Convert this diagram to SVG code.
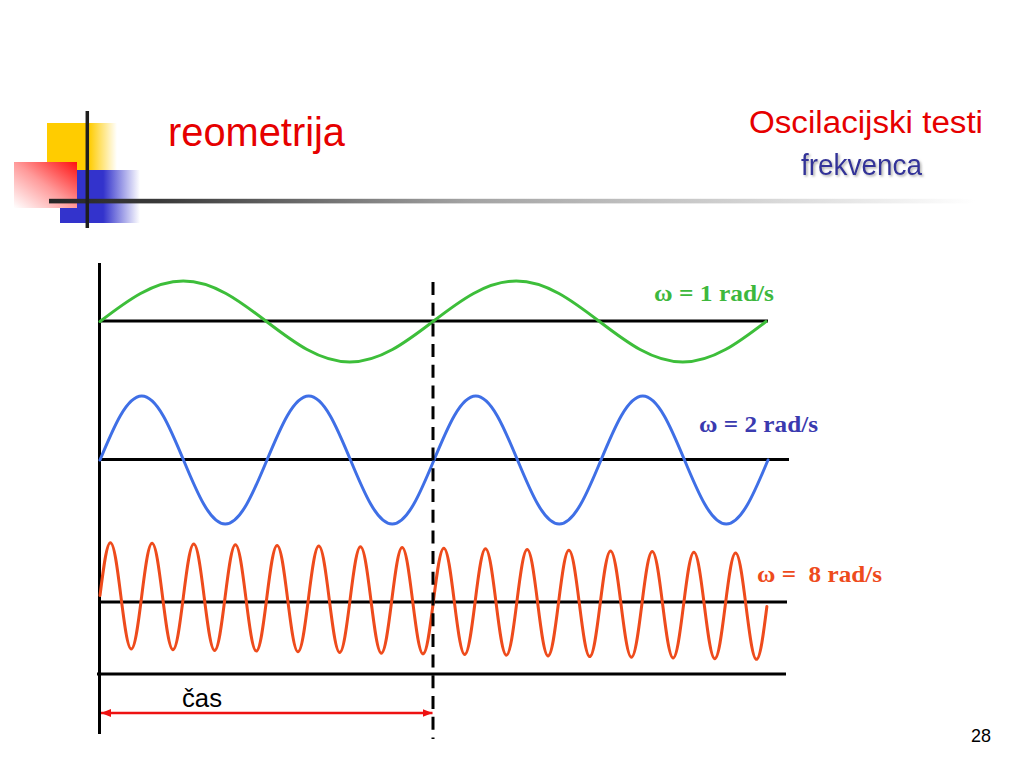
<svg xmlns="http://www.w3.org/2000/svg" width="1024" height="768" viewBox="0 0 1024 768">
<style>
  .sans { font-family: "Liberation Sans", Arial, sans-serif; }
  .serifb { font-family: "Liberation Serif", "Times New Roman", serif; font-weight: bold; }
  .axis { stroke: #000; stroke-width: 3; fill: none; }
  .wave { fill: none; stroke-width: 3; stroke-linejoin: round; stroke-linecap: round; }
</style>
<defs>
  <linearGradient id="gYellow" x1="0" y1="0" x2="1" y2="0">
    <stop offset="0" stop-color="#FFCC00"/>
    <stop offset="0.6" stop-color="#FFCC00"/>
    <stop offset="1" stop-color="#FFCC00" stop-opacity="0"/>
  </linearGradient>
  <linearGradient id="gBlue" x1="0" y1="0" x2="1" y2="0">
    <stop offset="0" stop-color="#3333CC"/>
    <stop offset="0.54" stop-color="#3333CC"/>
    <stop offset="1" stop-color="#3333CC" stop-opacity="0"/>
  </linearGradient>
  <linearGradient id="gRed" x1="0" y1="1" x2="1" y2="0">
    <stop offset="0" stop-color="#FFFFFF"/>
    <stop offset="0.5" stop-color="#FF9A9A"/>
    <stop offset="1" stop-color="#FF1010"/>
  </linearGradient>
  <linearGradient id="gBar" gradientUnits="userSpaceOnUse" x1="49" y1="0" x2="975" y2="0">
    <stop offset="0" stop-color="#262626"/>
    <stop offset="0.12" stop-color="#3a3a3a"/>
    <stop offset="0.45" stop-color="#a2a2a2"/>
    <stop offset="0.75" stop-color="#d2d2d2"/>
    <stop offset="1" stop-color="#ffffff"/>
  </linearGradient>
  <filter id="shadow" x="-10%" y="-20%" width="130%" height="160%">
    <feDropShadow dx="1.5" dy="1.5" stdDeviation="0.8" flood-color="#999999" flood-opacity="0.8"/>
  </filter>
  <marker id="ah" viewBox="0 0 10 8" refX="10" refY="4" markerWidth="10" markerHeight="8" markerUnits="userSpaceOnUse" orient="auto-start-reverse">
    <path d="M0,0 L10,4 L0,8 z" fill="#EE1111"/>
  </marker>
</defs>

<rect width="1024" height="768" fill="#ffffff"/>

<g id="decoration">
  <rect x="47" y="123" width="70" height="47" fill="url(#gYellow)"/>
  <rect x="60" y="170" width="80" height="53" fill="url(#gBlue)"/>
  <rect x="14" y="162" width="63" height="46" fill="url(#gRed)"/>
  <rect x="49" y="198.8" width="926" height="4.6" fill="url(#gBar)"/>
  <line x1="87.3" y1="111" x2="87.3" y2="228" stroke="#1e1e1e" stroke-width="3.5"/>
</g>

<g id="title">
  <text class="sans" x="168" y="146" font-size="40" fill="#E60000" textLength="177" lengthAdjust="spacingAndGlyphs">reometrija</text>
  <text class="sans" x="749" y="133" font-size="31" fill="#E60000" textLength="234" lengthAdjust="spacingAndGlyphs">Oscilacijski testi</text>
  <text class="sans" x="801" y="175" font-size="29" fill="#333399" filter="url(#shadow)" textLength="121" lengthAdjust="spacingAndGlyphs">frekvenca</text>
</g>

<g id="axes">
  <line class="axis" x1="99.5" y1="263" x2="99.5" y2="734"/>
  <line class="axis" x1="99" y1="321" x2="768" y2="321"/>
  <line class="axis" x1="99" y1="459.5" x2="789" y2="459.5"/>
  <line class="axis" x1="99" y1="602" x2="787" y2="602"/>
  <line class="axis" x1="97" y1="674" x2="786" y2="674"/>
</g>

<g id="wave-green">
  <path class="wave" stroke="#3DBE3A" d="M100,321.5 c27.15,-20.75 53.19,-40.5 83.25,-40.5 s56.10,19.75 83.25,40.5 s53.19,40.5 83.25,40.5 s56.10,-19.75 83.25,-40.5 s53.19,-40.5 83.25,-40.5 s56.10,19.75 83.25,40.5 s53.19,40.5 83.25,40.5 s56.10,-19.75 83.25,-40.5"/>
</g>

<g id="wave-blue">
  <path class="wave" stroke="#3F6FE6" d="M100,460 c13.61,-32.79 26.67,-64 41.75,-64 s28.14,31.21 41.75,64 s26.67,64 41.75,64 s28.14,-31.21 41.75,-64
  s26.67,-64 41.75,-64 s28.14,31.21 41.75,64 s26.67,64 41.75,64 s28.14,-31.21 41.75,-64
  s26.67,-64 41.75,-64 s28.14,31.21 41.75,64 s26.67,64 41.75,64 s28.14,-31.21 41.75,-64
  s26.67,-64 41.75,-64 s28.14,31.21 41.75,64 s26.67,64 41.75,64 s28.14,-31.21 41.75,-64"/>
</g>

<g id="wave-red">
  <path class="wave" stroke="#EE4B1C" transform="translate(100,595.5) skewY(0.945)" d="M0,0 c3.40,-27.15 6.66,-53 10.42,-53 s7.02,25.85 10.42,53 s6.66,53 10.42,53 s7.02,-25.85 10.42,-53
  s6.66,-53 10.42,-53 s7.02,25.85 10.42,53 s6.66,53 10.42,53 s7.02,-25.85 10.42,-53
  s6.66,-53 10.42,-53 s7.02,25.85 10.42,53 s6.66,53 10.42,53 s7.02,-25.85 10.42,-53
  s6.66,-53 10.42,-53 s7.02,25.85 10.42,53 s6.66,53 10.42,53 s7.02,-25.85 10.42,-53
  s6.66,-53 10.42,-53 s7.02,25.85 10.42,53 s6.66,53 10.42,53 s7.02,-25.85 10.42,-53
  s6.66,-53 10.42,-53 s7.02,25.85 10.42,53 s6.66,53 10.42,53 s7.02,-25.85 10.42,-53
  s6.66,-53 10.42,-53 s7.02,25.85 10.42,53 s6.66,53 10.42,53 s7.02,-25.85 10.42,-53
  s6.66,-53 10.42,-53 s7.02,25.85 10.42,53 s6.66,53 10.42,53 s7.02,-25.85 10.42,-53
  s6.66,-53 10.42,-53 s7.02,25.85 10.42,53 s6.66,53 10.42,53 s7.02,-25.85 10.42,-53
  s6.66,-53 10.42,-53 s7.02,25.85 10.42,53 s6.66,53 10.42,53 s7.02,-25.85 10.42,-53
  s6.66,-53 10.42,-53 s7.02,25.85 10.42,53 s6.66,53 10.42,53 s7.02,-25.85 10.42,-53
  s6.66,-53 10.42,-53 s7.02,25.85 10.42,53 s6.66,53 10.42,53 s7.02,-25.85 10.42,-53
  s6.66,-53 10.42,-53 s7.02,25.85 10.42,53 s6.66,53 10.42,53 s7.02,-25.85 10.42,-53
  s6.66,-53 10.42,-53 s7.02,25.85 10.42,53 s6.66,53 10.42,53 s7.02,-25.85 10.42,-53
  s6.66,-53 10.42,-53 s7.02,25.85 10.42,53 s6.66,53 10.42,53 s7.02,-25.85 10.42,-53
  s6.66,-53 10.42,-53 s7.02,25.85 10.42,53 s6.66,53 10.42,53 s7.02,-25.85 10.42,-53"/>
</g>

<g id="connectors">
  <line x1="433" y1="282" x2="433" y2="739" stroke="#000" stroke-width="3" stroke-dasharray="13 7.7"/>
  <line x1="101" y1="713" x2="432.5" y2="713" stroke="#EE1111" stroke-width="2.5" marker-start="url(#ah)" marker-end="url(#ah)"/>
</g>

<g id="labels">
  <text class="serifb" x="654" y="301" font-size="23" fill="#3DB83D" textLength="120" lengthAdjust="spacingAndGlyphs">ω = 1 rad/s</text>
  <text class="serifb" x="699" y="432" font-size="23" fill="#3A3AAF" textLength="119" lengthAdjust="spacingAndGlyphs">ω = 2 rad/s</text>
  <text class="serifb" x="757" y="582" font-size="23" fill="#EE4B1C" xml:space="preserve" textLength="125" lengthAdjust="spacingAndGlyphs">ω =  8 rad/s</text>
  <text class="sans" x="182" y="707" font-size="26" fill="#000" textLength="40" lengthAdjust="spacingAndGlyphs">čas</text>
  <text class="sans" x="971" y="742" font-size="19" fill="#000" textLength="20" lengthAdjust="spacingAndGlyphs">28</text>
</g>
</svg>
